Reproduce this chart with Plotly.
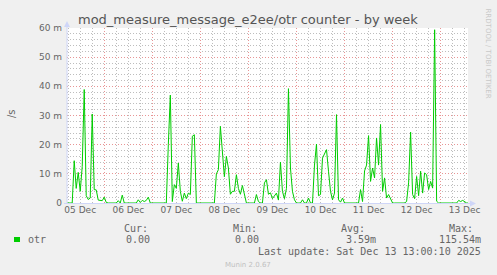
import pandas as pd
import plotly.graph_objects as go

# ---- data (hourly samples, m/s) ----
start_time = "2025-12-05 05:00"
otr_values = [
    0, 0, 0, 0, 14.5, 5, 10.5, 4, 12.5, 38.9, 2.5, 1.2,          # 05 Dec 05h-16h
    1.7, 30.5, 4.6, 4.5, 1.0, 0.9, 0.8, 2.0, 0.2, 0, 0, 0,       # 17h-04h
    0, 0, 0.8, 0, 2.7, 0, 0, 0, 0, 0, 0, 0,                      # 06 Dec 05h-16h
    1.1, 0.2, 0.9, 0.5, 0.9, 2.0, 0, 0, 0, 0, 0, 0,              # 17h-04h
    0, 0, 0, 20, 37, 0.5, 6.3, 5, 13.7, 4, 0.6, 3.4,             # 07 Dec 05h-16h
    1.5, 3.4, 2.9, 22.9, 23.4, 0, 0, 0, 0, 0, 0, 0,              # 17h-04h
    0, 0, 0, 10, 11.4, 26.3, 18, 9, 16, 12, 3, 4,                # 08 Dec 05h-16h
    4, 9.7, 5, 3, 6, 3, 0, 0, 0, 0, 0, 2.9,                      # 17h-04h
    0.5, 0, 0, 6.9, 8, 3, 3.5, 1.5, 2.5, 3.4, 1, 14,             # 09 Dec 05h-16h
    4, 1.5, 5, 39.2, 12, 4, 1.1, 0, 0, 0, 1.1, 0,                # 17h-04h
    0, 1.7, 0, 0, 13, 20.2, 2.5, 2.9, 15.4, 17, 18.3, 10.9,      # 10 Dec 05h-16h
    4, 1.1, 3.4, 30.3, 1.1, 0.3, 1.7, 0, 0, 0, 0, 0,             # 17h-04h
    0, 0, 0, 4.6, 0.5, 11, 13, 23.1, 7.4, 12, 8.6, 22.3,         # 11 Dec 05h-16h
    13, 26.9, 4, 8.6, 1.7, 2.9, 1.1, 0, 0, 0, 0, 0,              # 17h-04h
    0, 0, 0.5, 6.9, 24.3, 2.9, 1.5, 9.1, 2.5, 10.9, 3.4, 10.3,   # 12 Dec 05h-16h
    9.7, 4.6, 7.4, 5.1, 59.4, 0.6, 0, 0, 0, 0, 0, 0,             # 17h-04h
    0, 0, 0, 0, 0.9, 0.5, 0.9, 0.3, 0, 0,                        # 13 Dec 05h-14h
]
y_tick_values = [0, 10, 20, 30, 40, 50, 60]
y_tick_labels = ["0", "10 m", "20 m", "30 m", "40 m", "50 m", "60 m"]
x_range = ["2025-12-05 05:24", "2025-12-13 13:40"]
day_starts = pd.date_range("2025-12-06", "2025-12-13", freq="D")
day_noons = pd.date_range("2025-12-05 12:00", "2025-12-13 12:00", freq="D")
day_labels = [d.strftime("%d %b") for d in day_noons]

legend_name = "otr"
stat_headers = ["Cur:", "Min:", "Avg:", "Max:"]
stat_values = ["0.00", "0.00", "3.59m", "115.54m"]
last_update = "Last update: Sat Dec 13 13:00:10 2025"

times = pd.date_range(start_time, periods=len(otr_values), freq="h")

# ---- geometry helpers (pixel -> paper) ----
W, H = 497, 275
L, R, T, B = 67, 468, 28, 203


def px(x):
    return (x - L) / (R - L)


def py(y):
    return (B - y) / (B - T)


GREEN = "#00cc00"
FONT = "#666666"
AXIS = "#CFD6F8"
MGRID = "#e89595"
GRID = "#bdbdbd"
DASH = "1px,2px"

fig = go.Figure()
fig.add_trace(go.Scatter(x=times, y=otr_values, mode="lines",
                         line=dict(color=GREEN, width=1), hoverinfo="skip",
                         showlegend=False))
# invisible trace so the label axis is drawn
fig.add_trace(go.Scatter(x=times, y=otr_values, mode="lines", xaxis="x2",
                         line=dict(width=0), opacity=0, hoverinfo="skip",
                         showlegend=False))

fig.update_layout(
    width=W, height=H,
    margin=dict(l=L, r=W - R, t=T, b=H - B, pad=0),
    paper_bgcolor="#f0f0f0", plot_bgcolor="#ffffff",
    font=dict(family="DejaVu Sans", size=9, color=FONT),
    xaxis=dict(type="date", range=x_range, tickvals=day_starts,
               showticklabels=False, ticks="",
               showgrid=True, gridcolor=MGRID, griddash=DASH, gridwidth=1,
               minor=dict(dtick=6 * 3600 * 1000, tick0="2025-12-05",
                          showgrid=True, gridcolor=GRID,
                          griddash=DASH, gridwidth=1),
               zeroline=False, showline=False, fixedrange=True),
    xaxis2=dict(type="date", range=x_range, overlaying="x", anchor="y",
                side="bottom", tickvals=day_noons, ticktext=day_labels,
                showgrid=False, ticks="", zeroline=False, showline=False,
                tickfont=dict(size=9, color=FONT, family="DejaVu Sans")),
    yaxis=dict(range=[0, 60], tickvals=y_tick_values, ticktext=y_tick_labels,
               showgrid=True, gridcolor=MGRID, griddash=DASH, gridwidth=1,
               minor=dict(dtick=2, showgrid=True, gridcolor=GRID,
                          griddash=DASH, gridwidth=1),
               zeroline=False, showline=False, ticks="",
               ticklabelstandoff=4,
               tickfont=dict(size=9, color=FONT, family="DejaVu Sans")),
)

# axes lines + arrows
fig.add_shape(type="line", xref="paper", yref="paper",
              x0=px(67), x1=px(67), y0=py(204), y1=py(25),
              line=dict(color=AXIS, width=1))
fig.add_shape(type="line", xref="paper", yref="paper",
              x0=px(64), x1=px(472), y0=py(203.5), y1=py(203.5),
              line=dict(color=AXIS, width=1))
fig.add_shape(type="path", xref="paper", yref="paper",
              path=f"M {px(64)},{py(27)} L {px(70)},{py(27)} L {px(67)},{py(21)} Z",
              fillcolor=AXIS, line=dict(width=0))
fig.add_shape(type="path", xref="paper", yref="paper",
              path=f"M {px(470)},{py(200.5)} L {px(470)},{py(206.5)} L {px(476)},{py(203.5)} Z",
              fillcolor=AXIS, line=dict(width=0))

# legend swatch
fig.add_shape(type="rect", xref="paper", yref="paper",
              x0=px(14), x1=px(20), y0=py(242), y1=py(237),
              fillcolor=GREEN, line=dict(width=0))


def ann(text, x, y, size=10, color=FONT, family="DejaVu Sans Mono",
        xanchor="left", angle=0):
    fig.add_annotation(text=text, x=px(x), y=py(y), xref="paper", yref="paper",
                       showarrow=False, xanchor=xanchor, yanchor="middle",
                       textangle=angle,
                       font=dict(size=size, color=color, family=family))


ann("mod_measure_message_e2ee/otr counter - by week", 247.5, 19.5, size=13,
    color="#555555", family="DejaVu Sans", xanchor="center")
ann("/s", 11, 114, size=10, family="DejaVu Sans", xanchor="center", angle=-90)
ann("RRDTOOL / TOBI OETIKER", 487.5, 53, size=7, color="#c8c8c8",
    family="DejaVu Sans", xanchor="center", angle=90)

header_x = [122, 231, 339, 447]
value_right = [152, 261, 378, 483]
for hx, h in zip(header_x, stat_headers):
    ann(h, hx, 228.5)
ann(legend_name, 26, 239.5)
for vx, v in zip(value_right, stat_values):
    ann(v, vx, 239.5, xanchor="right")
ann(last_update, 483, 251.5, xanchor="right")
ann("Munin 2.0.67", 247.5, 264.5, size=7, color="#c0c0c0",
    family="DejaVu Sans", xanchor="center")

fig.write_html("out.html")
